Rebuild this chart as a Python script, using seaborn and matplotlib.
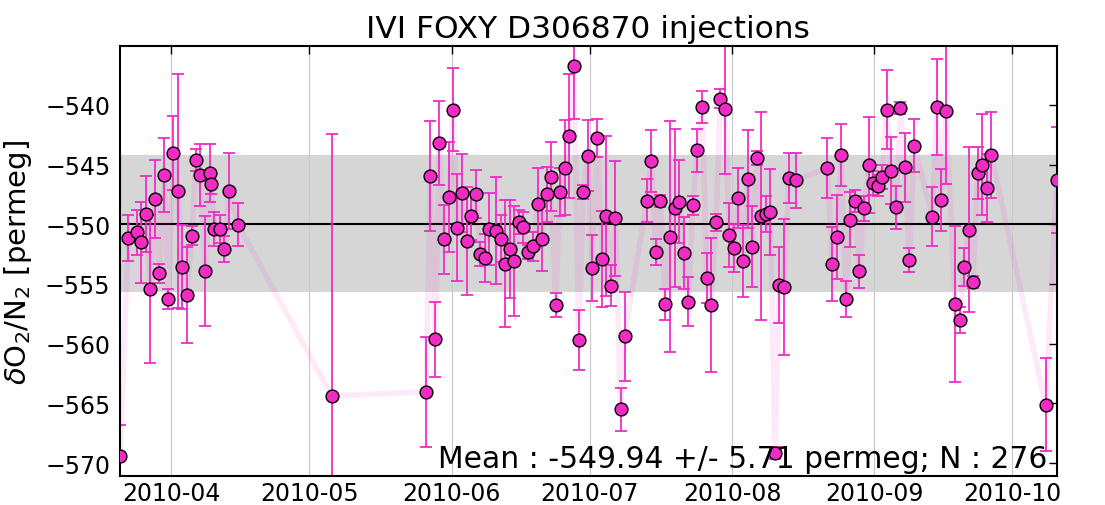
import matplotlib
matplotlib.use("Agg")
import matplotlib.pyplot as plt
import matplotlib.dates as mdates
from matplotlib.ticker import MultipleLocator
import seaborn as sns
import pandas as pd

# ---- data ----
base_date = "2010-04-01"
days_after_base = [-11.16, -9.36, -7.40, -6.59, -5.50, -4.63, -3.48, -2.61, -1.52, -0.65,
                   0.44, 1.39, 2.33, 3.35, 4.44, 5.37, 6.31, 7.40, 8.36, 8.64,
                   9.36, 10.66, 11.53, 12.62, 14.51, 34.97, 55.42, 56.35, 57.44, 58.31,
                   59.33, 60.36, 61.36, 62.23, 63.32, 64.27, 65.27, 66.30, 67.23, 68.25,
                   69.19, 70.65, 71.80, 72.67, 73.76, 74.63, 75.72, 76.59, 77.68, 78.63,
                   79.72, 80.59, 81.68, 82.55, 83.64, 84.57, 85.60, 86.64, 87.62, 88.64,
                   89.62, 90.60, 91.58, 92.69, 93.76, 94.69, 95.61, 96.65, 97.74, 98.65,
                   103.44, 104.44, 105.42, 106.44, 107.46, 108.46, 109.49, 110.53, 111.51, 112.53,
                   113.47, 114.49, 115.53, 116.51, 117.43, 118.52, 119.45, 120.47, 121.41, 122.43,
                   123.41, 124.46, 125.41, 126.41, 127.37, 128.31, 129.29, 130.33, 131.35, 132.29,
                   133.31, 134.33, 135.92, 142.73, 143.82, 144.78, 145.78, 146.80, 147.78, 148.76,
                   149.74, 150.72, 151.74, 152.74, 153.70, 154.63, 155.66, 156.59, 157.68, 158.66,
                   159.64, 160.58, 161.66, 165.58, 166.54, 167.54, 168.56, 170.52, 171.54, 172.48,
                   173.50, 174.43, 175.45, 176.39, 177.41, 178.41, 190.25, 192.65]

d_o2n2 = [-569.43, -551.15, -550.67, -551.50, -549.14, -555.40, -547.88, -554.10, -545.85, -556.26,
          -544.03, -547.20, -553.60, -555.90, -550.95, -544.60, -545.87, -553.94, -545.70, -546.65,
          -550.40, -550.40, -552.07, -547.20, -550.03, -564.38, -564.02, -545.95, -559.63, -543.22,
          -551.26, -547.69, -540.40, -550.28, -547.38, -551.42, -549.30, -547.46, -552.50, -552.80,
          -550.40, -550.53, -551.20, -553.30, -552.07, -553.10, -549.78, -550.25, -552.30, -551.85,
          -548.30, -551.23, -547.49, -546.00, -556.76, -547.27, -545.26, -542.63, -536.72, -559.69,
          -547.32, -544.25, -553.66, -542.77, -552.90, -549.28, -555.14, -549.50, -565.47, -559.38,
          -548.02, -544.70, -552.35, -548.02, -556.68, -551.04, -548.63, -548.10, -552.40, -556.48,
          -548.40, -543.80, -540.18, -554.50, -556.76, -549.83, -539.48, -540.35, -550.90, -551.98,
          -547.80, -553.07, -546.20, -551.87, -544.47, -549.28, -549.11, -548.94, -569.15, -555.10,
          -555.28, -546.15, -546.30, -545.30, -553.30, -551.04, -544.17, -556.23, -549.61, -548.05,
          -553.94, -548.66, -545.03, -546.54, -546.77, -546.04, -540.40, -545.50, -548.58, -540.28,
          -545.23, -553.00, -543.42, -549.36, -540.20, -547.96, -540.49, -556.68, -557.99, -553.60,
          -550.45, -554.83, -545.70, -545.00, -546.98, -544.20, -565.10, -546.29]

d_o2n2_err = [2.6, 1.95, 1.9, 3.4, 3.2, 6.2, 3.3, 0.8, 3.1, 0.8,
              3.1, 9.8, 3.5, 4.0, 0.8, 0.9, 2.6, 4.6, 2.4, 0.8,
              1.4, 1.2, 1.1, 3.2, 1.8, 21.9, 4.6, 4.6, 3.15, 3.5,
              2.9, 4.6, 3.5, 4.5, 3.3, 4.5, 2.0, 2.0, 1.0, 2.0,
              3.0, 4.5, 2.0, 5.3, 4.1, 4.6, 1.0, 1.3, 0.6, 1.2,
              3.0, 2.7, 2.3, 2.9, 1.0, 2.0, 4.0, 5.2, 4.5, 2.5,
              0.6, 3.0, 2.8, 1.6, 4.0, 6.7, 1.7, 4.8, 1.8, 3.7,
              1.8, 2.6, 1.1, 0.5, 1.3, 9.65, 6.6, 3.45, 3.0, 2.05,
              0.8, 1.8, 1.35, 2.1, 5.6, 0.7, 0.8, 5.4, 2.7, 2.0,
              2.5, 3.0, 4.1, 3.4, 0.6, 8.7, 1.5, 3.6, 0.5, 3.2,
              5.7, 2.1, 2.3, 2.5, 3.1, 3.5, 2.6, 1.5, 2.3, 0.9,
              1.4, 1.05, 4.0, 1.0, 0.9, 1.0, 3.3, 2.8, 1.8, 0.5,
              2.9, 1.0, 2.2, 2.5, 4.0, 2.6, 6.1, 6.5, 1.1, 1.6,
              6.9, 0.5, 2.2, 4.2, 2.85, 3.6, 3.9, 4.4]

mean_value = -549.94
std_value = 5.71
n_value = 276
title_text = "IVI FOXY D306870 injections"
ylabel_text = r"$\delta$O$_2$/N$_2$ [permeg]"

assert len(days_after_base) == len(d_o2n2) == len(d_o2n2_err)

df = pd.DataFrame({
    "date": pd.Timestamp(base_date) + pd.to_timedelta(days_after_base, unit="D"),
    "value": d_o2n2,
    "err": d_o2n2_err,
})

# ---- style ----
sns.set_theme(style="white")
plt.rcParams["font.family"] = ["DejaVu Sans"]
plt.rcParams["mathtext.fontset"] = "dejavusans"
plt.rcParams["text.color"] = "black"
plt.rcParams["axes.labelcolor"] = "black"
plt.rcParams["axes.titlecolor"] = "black"
plt.rcParams["xtick.color"] = "black"
plt.rcParams["ytick.color"] = "black"

pink = "#f02cc4"

fig = plt.figure(figsize=(11.05, 5.06), dpi=100)
ax = fig.add_axes([0.1086, 0.0579, 0.8477, 0.8486])

ax.axhspan(mean_value - std_value, mean_value + std_value, color="#d6d6d6", lw=0, zorder=0)
ax.axhline(mean_value, color="black", lw=1.5, zorder=1)

sns.lineplot(data=df, x="date", y="value", sort=False, estimator=None, color=pink,
             alpha=0.1, lw=4, ax=ax, zorder=1.5)
ax.errorbar(df["date"], df["value"], yerr=df["err"], fmt="none", ecolor=pink,
            elinewidth=1.3, capsize=4, capthick=1.3, zorder=2)
sns.scatterplot(data=df, x="date", y="value", color=pink, edgecolor="black",
                linewidth=1, s=85, ax=ax, zorder=3, legend=False)

ax.set_xlim(df["date"].min(), df["date"].max())
ax.set_ylim(-571.05, -535.1)
ax.yaxis.set_major_locator(MultipleLocator(5))
ax.xaxis.set_major_locator(mdates.MonthLocator())
ax.xaxis.set_major_formatter(mdates.DateFormatter("%Y-%m"))

ax.set_axisbelow(True)
ax.grid(axis="x", color="#c8c8c8", lw=0.8)
ax.grid(axis="y", visible=False)

ax.tick_params(direction="in", top=True, right=True, length=6, width=1,
               labelsize=17, colors="black")
ax.tick_params(axis="y", pad=7)
ax.tick_params(axis="x", pad=4)
for sp in ax.spines.values():
    sp.set_linewidth(1.5)
    sp.set_color("black")

ax.set_xlabel("")
ax.set_ylabel(ylabel_text, fontsize=21, labelpad=8)
ax.set_title(title_text, fontsize=22.5, pad=7)

ax.text(0.99, 0.02, f"Mean : {mean_value:.2f} +/- {std_value:.2f} permeg; N : {n_value}",
        transform=ax.transAxes, ha="right", va="baseline", fontsize=21.4, zorder=5)

fig.savefig("out.png", dpi=100)
